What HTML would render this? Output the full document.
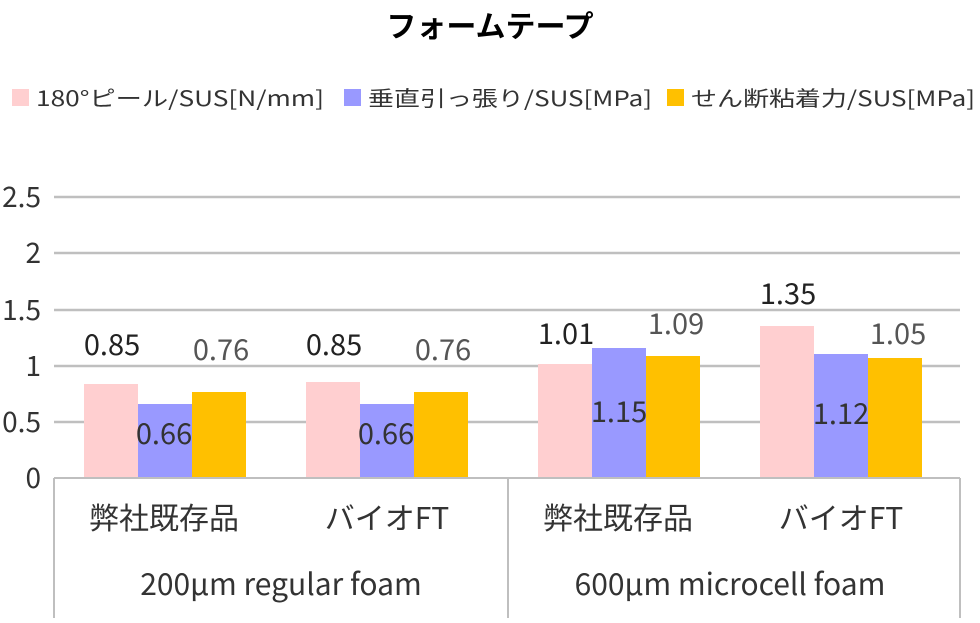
<!DOCTYPE html>
<html><head><meta charset="utf-8"><style>body{margin:0;background:#fff}</style></head><body>
<svg width="980" height="618" xmlns="http://www.w3.org/2000/svg" font-family="'Noto Sans CJK JP','Liberation Sans',sans-serif">
<text x="490" y="37" text-anchor="middle" font-size="30" font-weight="bold" fill="#000">フォームテープ</text>
<g font-size="21" fill="#333">
<rect x="12" y="89" width="17" height="17" fill="#ffcfd0"/><text x="36" y="106" textLength="288" lengthAdjust="spacingAndGlyphs">180°ピール/SUS[N/mm]</text>
<rect x="344" y="89" width="17" height="17" fill="#9999ff"/><text x="368" y="106" textLength="284" lengthAdjust="spacingAndGlyphs">垂直引っ張り/SUS[MPa]</text>
<rect x="667" y="89" width="17" height="17" fill="#ffc000"/><text x="691" y="106" textLength="284" lengthAdjust="spacingAndGlyphs">せん断粘着力/SUS[MPa]</text>
</g>
<g stroke="#bfbfbf" stroke-width="2.5">
<line x1="54" y1="197" x2="960" y2="197"/><line x1="54" y1="253" x2="960" y2="253"/>
<line x1="54" y1="310" x2="960" y2="310"/><line x1="54" y1="366" x2="960" y2="366"/>
<line x1="54" y1="422" x2="960" y2="422"/>
</g>
<g font-size="28" fill="#333" text-anchor="end">
<text x="41" y="207">2.5</text><text x="41" y="263">2</text><text x="41" y="320">1.5</text>
<text x="41" y="376">1</text><text x="41" y="432">0.5</text><text x="41" y="488">0</text>
</g>
<g>
<rect x="84" y="384" width="54" height="94" fill="#ffcfd0"/><rect x="138" y="404" width="54" height="74" fill="#9999ff"/><rect x="192" y="392" width="54" height="86" fill="#ffc000"/>
<rect x="306" y="382" width="54" height="96" fill="#ffcfd0"/><rect x="360" y="404" width="54" height="74" fill="#9999ff"/><rect x="414" y="392" width="54" height="86" fill="#ffc000"/>
<rect x="538" y="364" width="54" height="114" fill="#ffcfd0"/><rect x="592" y="348" width="54" height="130" fill="#9999ff"/><rect x="646" y="356" width="54" height="122" fill="#ffc000"/>
<rect x="760" y="326" width="54" height="152" fill="#ffcfd0"/><rect x="814" y="354" width="54" height="124" fill="#9999ff"/><rect x="868" y="358" width="54" height="120" fill="#ffc000"/>
</g>
<g stroke="#bfbfbf" stroke-width="2" fill="none">
<line x1="54" y1="478" x2="960" y2="478"/>
<line x1="54" y1="478" x2="54" y2="618"/><line x1="508" y1="478" x2="508" y2="618"/><line x1="960" y1="478" x2="960" y2="618"/>
</g>
<g font-size="29" text-anchor="middle">
<text x="112" y="355" fill="#222">0.85</text><text x="164" y="444" fill="#333">0.66</text><text x="221" y="360" fill="#555">0.76</text>
<text x="334" y="355" fill="#222">0.85</text><text x="386" y="444" fill="#333">0.66</text><text x="443" y="360" fill="#555">0.76</text>
<text x="566" y="344" fill="#222">1.01</text><text x="619" y="422" fill="#333">1.15</text><text x="676" y="334" fill="#555">1.09</text>
<text x="788" y="304" fill="#222">1.35</text><text x="841" y="424" fill="#333">1.12</text><text x="898" y="344" fill="#555">1.05</text>
</g>
<g font-size="30" fill="#333" text-anchor="middle">
<text x="164" y="529">弊社既存品</text><text x="387" y="529">バイオFT</text>
<text x="618" y="529">弊社既存品</text><text x="841" y="529">バイオFT</text>
<text x="281" y="595">200µm regular foam</text><text x="730" y="595">600µm microcell foam</text>
</g>
</svg>
</body></html>
